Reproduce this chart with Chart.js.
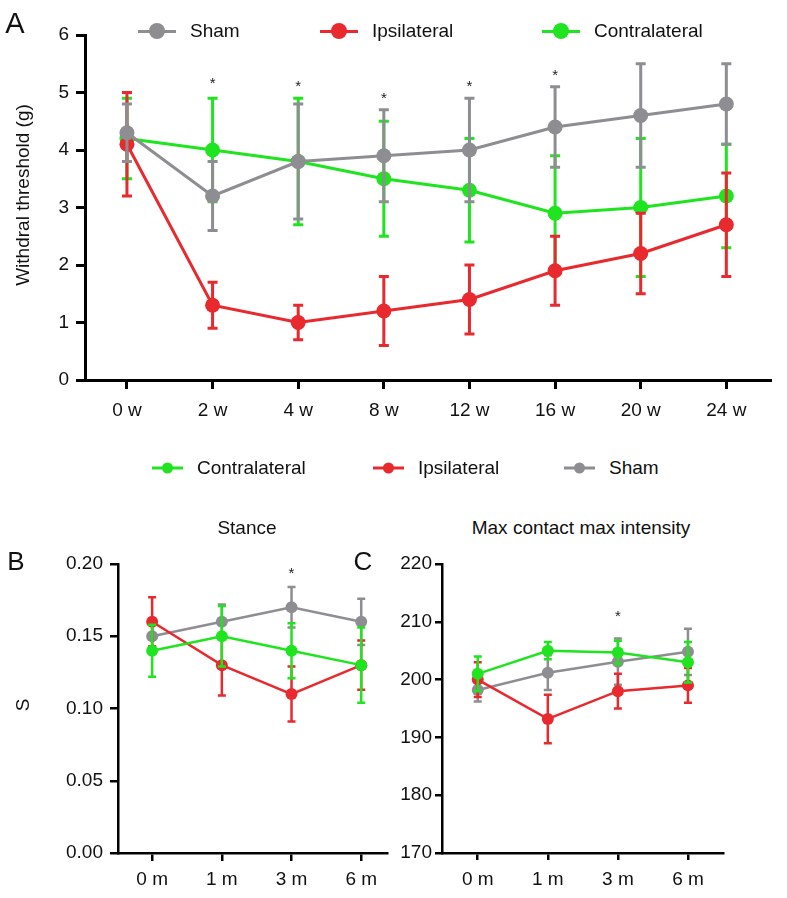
<!DOCTYPE html>
<html lang="en">
<head>
<meta charset="UTF-8">
<title>Withdrawal threshold and gait</title>
<style>
  body { margin: 0; background: #fff; font-family: "Liberation Sans", Arial, sans-serif; color: #111; }
  #wrap { position: relative; width: 787px; height: 898px; }
  canvas { position: absolute; }
  .txt { position: absolute; white-space: nowrap; }
  .lbl { position: absolute; white-space: nowrap; transform: translateY(-50%); font-size: 19px; }
  .key { position: absolute; transform: translateY(-50%); }
  .key .ln { position: absolute; top: 50%; left: 0; height: 3px; margin-top: -1.5px; }
  .key .dot { position: absolute; top: 50%; border-radius: 50%; }
</style>
</head>
<body>
<div id="wrap">
  <canvas id="chartA" width="787" height="430" style="left:0;top:0"></canvas>
  <canvas id="chartB" width="400" height="358" style="left:0;top:540px"></canvas>
  <canvas id="chartC" width="387" height="358" style="left:400px;top:540px"></canvas>
</div>

<script src="https://cdn.jsdelivr.net/npm/chart.js"></script>
<script type="text/javascript">
const GRAY = '#8e8e92';
const RED = '#e8292e';
const GREEN = '#1fe41f';

// Panel A: von Frey withdrawal threshold
const weeks = ['0 w', '2 w', '4 w', '8 w', '12 w', '16 w', '20 w', '24 w'];
const shamA = [4.3, 3.2, 3.8, 3.9, 4.0, 4.4, 4.6, 4.8];
const shamAErr = [0.5, 0.6, 1.0, 0.8, 0.9, 0.7, 0.9, 0.7];
const ipsiA = [4.1, 1.3, 1.0, 1.2, 1.4, 1.9, 2.2, 2.7];
const ipsiAErr = [0.9, 0.4, 0.3, 0.6, 0.6, 0.6, 0.7, 0.9];
const contraA = [4.2, 4.0, 3.8, 3.5, 3.3, 2.9, 3.0, 3.2];
const contraAErr = [0.7, 0.9, 1.1, 1.0, 0.9, 1.0, 1.2, 0.9];
const starsA = [null, 5.2, 5.15, 4.95, 5.15, 5.35, null, null];

// Panel B: stance (s)
const months = ['0 m', '1 m', '3 m', '6 m'];
const contraB = [0.14, 0.15, 0.14, 0.13];
const contraBErr = [0.018, 0.021, 0.019, 0.026];
const ipsiB = [0.16, 0.13, 0.11, 0.13];
const ipsiBErr = [0.017, 0.021, 0.019, 0.017];
const shamB = [0.15, 0.16, 0.17, 0.16];
const shamBErr = [0.01, 0.012, 0.014, 0.016];
const starsB = [null, null, 0.195, null];

// Panel C: max contact max intensity
const contraC = [201, 205, 204.7, 203];
const contraCErr = [3, 1.5, 2, 3.5];
const ipsiC = [200, 193.2, 198, 199];
const ipsiCErr = [3, 4.2, 3, 3];
const shamC = [198.2, 201.2, 203.1, 204.8];
const shamCErr = [2, 3, 4, 4];
const starsC = [null, null, 211.3, null];

const errorBars = {
  id: 'errbars',
  beforeDatasetDraw(chart, args, opts) {
    const ds = chart.data.datasets[args.index];
    if (!ds.errors) return;
    const y = chart.scales.y, ctx = chart.ctx;
    ctx.save();
    ctx.strokeStyle = ds.borderColor;
    ctx.lineWidth = opts.lineWidth;
    args.meta.data.forEach((pt, i) => {
      const v = ds.data[i].y, e = ds.errors[i];
      const t = y.getPixelForValue(v + e), b = y.getPixelForValue(v - e);
      ctx.beginPath();
      ctx.moveTo(pt.x, t); ctx.lineTo(pt.x, b);
      ctx.moveTo(pt.x - opts.cap, t); ctx.lineTo(pt.x + opts.cap, t);
      ctx.moveTo(pt.x - opts.cap, b); ctx.lineTo(pt.x + opts.cap, b);
      ctx.stroke();
    });
    ctx.restore();
  }
};

const stars = {
  id: 'stars',
  afterDatasetsDraw(chart, args, opts) {
    const ctx = chart.ctx;
    ctx.save();
    ctx.fillStyle = '#222';
    ctx.font = '15px "Liberation Sans", Arial';
    ctx.textAlign = 'center';
    ctx.textBaseline = 'middle';
    opts.values.forEach((v, i) => {
      if (v === null) return;
      ctx.fillText('*', chart.scales.x.getPixelForValue(i), chart.scales.y.getPixelForValue(v) + 3);
    });
    ctx.restore();
  }
};

function pts(arr) { return arr.map((v, i) => ({ x: i, y: v })); }

function makeChart(id, cfg) {
  const datasets = cfg.series.map(s => ({
    label: s.label,
    data: pts(s.data),
    errors: s.err,
    borderColor: s.color,
    backgroundColor: s.color,
    borderWidth: cfg.lw,
    pointRadius: cfg.r,
    pointHoverRadius: cfg.r,
    pointBorderWidth: 0,
    tension: 0,
    clip: false
  }));
  return new Chart(document.getElementById(id), {
    type: 'line',
    data: { datasets },
    options: {
      responsive: false,
      animation: false,
      events: [],
      layout: { padding: cfg.pad },
      plugins: {
        legend: { display: false },
        tooltip: { enabled: false },
        errbars: { lineWidth: cfg.lw, cap: cfg.cap },
        stars: { values: cfg.stars }
      },
      scales: {
        x: {
          type: 'linear',
          min: cfg.xMin, max: cfg.xMax,
          afterBuildTicks: s => { s.ticks = cfg.labels.map((_, i) => ({ value: i })); },
          afterFit: s => { s.height = cfg.xH; },
          border: { color: '#000', width: cfg.axisW },
          grid: { drawOnChartArea: false, color: '#000', lineWidth: cfg.axisW, tickLength: cfg.tl },
          ticks: {
            callback: v => cfg.labels[v],
            color: '#111',
            font: { size: 19, family: '"Liberation Sans", Arial' },
            padding: cfg.xPad,
            maxRotation: 0,
            autoSkip: false
          }
        },
        y: {
          min: cfg.yMin, max: cfg.yMax,
          afterFit: s => { s.width = cfg.yW; },
          border: { color: '#000', width: cfg.axisW },
          grid: { drawOnChartArea: false, color: '#000', lineWidth: cfg.axisW, tickLength: cfg.tl },
          ticks: {
            stepSize: cfg.step,
            callback: cfg.fmt,
            color: '#111',
            font: { size: 19, family: '"Liberation Sans", Arial' },
            padding: cfg.yPad
          }
        }
      }
    },
    plugins: [errorBars, stars]
  });
}

makeChart('chartA', {
  labels: weeks,
  series: [
    { label: 'Sham', data: shamA, err: shamAErr, color: GRAY },
    { label: 'Ipsilateral', data: ipsiA, err: ipsiAErr, color: RED },
    { label: 'Contralateral', data: contraA, err: contraAErr, color: GREEN }
  ],
  stars: starsA,
  xMin: -0.49, xMax: 7.51, yMin: 0, yMax: 6, step: 1, fmt: v => v,
  pad: { top: 35, right: 17, left: 0, bottom: 0 },
  yW: 85, xH: 50, tl: 9, xPad: 10, yPad: 7, axisW: 3, lw: 3, r: 7.5, cap: 5
});

makeChart('chartB', {
  labels: months,
  series: [
    { label: 'Contralateral', data: contraB, err: contraBErr, color: GREEN },
    { label: 'Ipsilateral', data: ipsiB, err: ipsiBErr, color: RED },
    { label: 'Sham', data: shamB, err: shamBErr, color: GRAY }
  ],
  stars: starsB,
  xMin: -0.49, xMax: 3.37, yMin: 0, yMax: 0.2, step: 0.05, fmt: v => v.toFixed(2),
  pad: { top: 24, right: 13, left: 0, bottom: 0 },
  yW: 118, xH: 45, tl: 8, xPad: 7, yPad: 7, axisW: 2.5, lw: 2.5, r: 6, cap: 4
});

makeChart('chartC', {
  labels: months,
  series: [
    { label: 'Contralateral', data: contraC, err: contraCErr, color: GREEN },
    { label: 'Ipsilateral', data: ipsiC, err: ipsiCErr, color: RED },
    { label: 'Sham', data: shamC, err: shamCErr, color: GRAY }
  ],
  stars: starsC,
  xMin: -0.51, xMax: 3.5, yMin: 170, yMax: 220, step: 10, fmt: v => v,
  pad: { top: 24, right: 64, left: 0, bottom: 0 },
  yW: 42, xH: 45, tl: 7, xPad: 8, yPad: 3, axisW: 2.5, lw: 2.5, r: 6, cap: 4
});

// texts and legends
const wrap = document.getElementById('wrap');
function addText(txt, x, y, size, rot) {
  const d = document.createElement('div');
  d.className = 'txt';
  d.textContent = txt;
  d.style.left = x + 'px';
  d.style.top = y + 'px';
  d.style.fontSize = size + 'px';
  d.style.transform = 'translate(-50%, -50%)' + (rot ? ' rotate(' + rot + 'deg)' : '');
  wrap.appendChild(d);
}
function addKey(label, color, x, y, w, r) {
  const k = document.createElement('div');
  k.className = 'key';
  k.style.left = x + 'px';
  k.style.top = y + 'px';
  k.style.width = w + 'px';
  k.style.height = (2 * r) + 'px';
  k.innerHTML = '<div class="ln" style="width:' + w + 'px;background:' + color + '"></div>' +
    '<div class="dot" style="left:' + (w / 2 - r) + 'px;width:' + (2 * r) + 'px;height:' + (2 * r) +
    'px;margin-top:' + (-r) + 'px;background:' + color + '"></div>';
  wrap.appendChild(k);
  const t = document.createElement('div');
  t.className = 'lbl';
  t.textContent = label;
  t.style.left = (x + w + 14) + 'px';
  t.style.top = y + 'px';
  wrap.appendChild(t);
}

addText('A', 15, 23, 29);
addText('B', 16, 561, 26);
addText('C', 363, 561, 26);
addText('Withdral threshold (g)', 23, 195, 19, -90);
addText('S', 23, 705, 19, -90);
addText('Stance', 247, 528, 19);
addText('Max contact max intensity', 581, 528, 19);

addKey('Sham', GRAY, 138, 31, 38, 8);
addKey('Ipsilateral', RED, 320, 31, 38, 8);
addKey('Contralateral', GREEN, 542, 31, 38, 8);

addKey('Contralateral', GREEN, 152, 468, 31, 5.5);
addKey('Ipsilateral', RED, 373, 468, 31, 5.5);
addKey('Sham', GRAY, 564, 468, 31, 5.5);
</script>
</body>
</html>
